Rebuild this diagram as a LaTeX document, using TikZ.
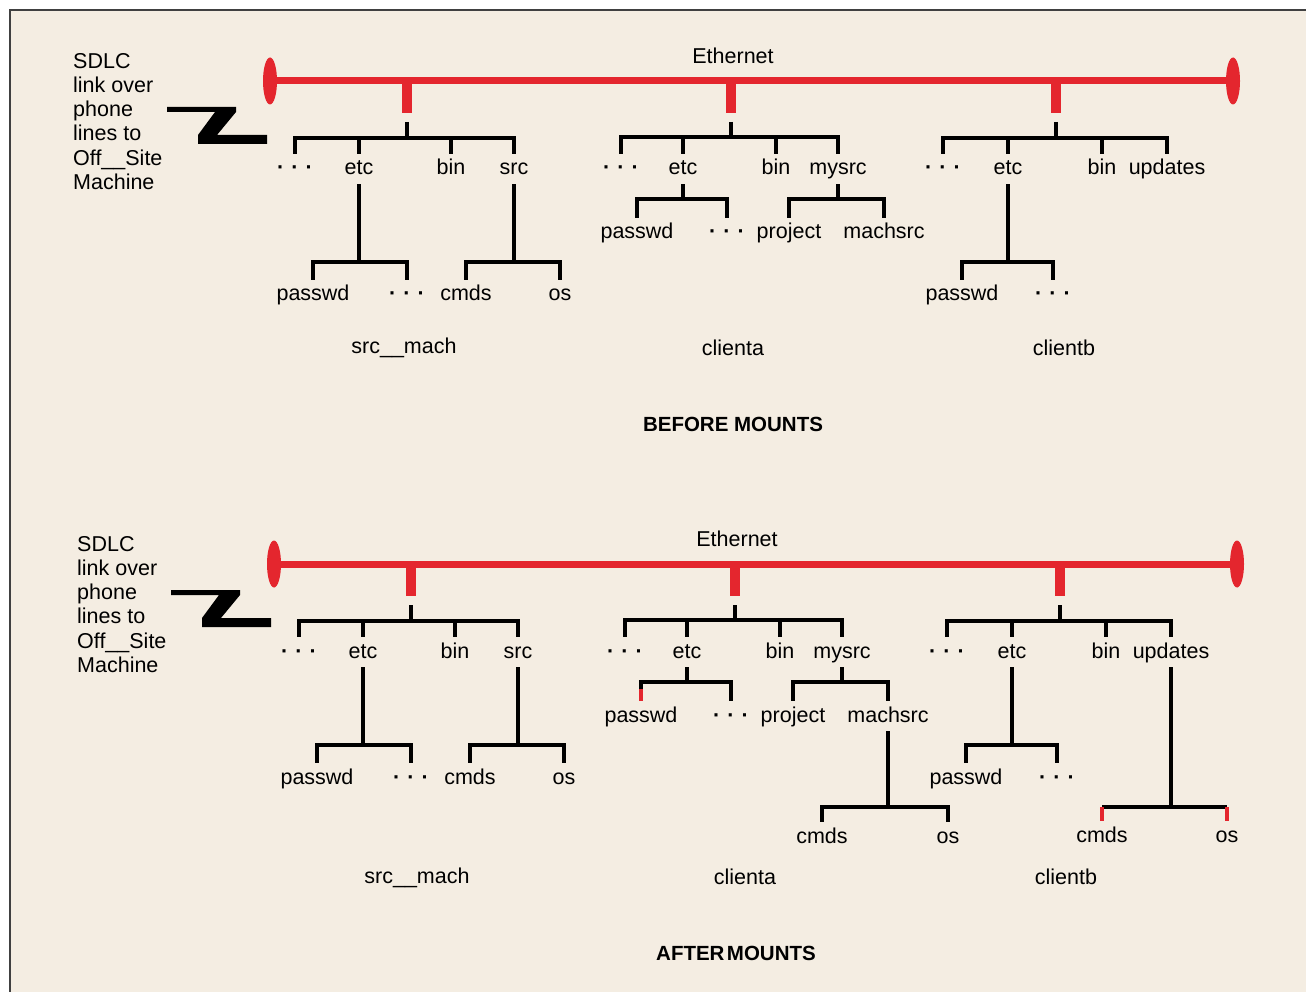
\documentclass[tikz,border=0pt]{standalone}
\usepackage{fontspec}
\setmainfont{Liberation Sans}
\usepackage{tikz}
\usetikzlibrary{shapes.geometric}

\definecolor{ethred}{RGB}{228,38,46}
\definecolor{paper}{RGB}{244,237,226}

\newcommand{\more}{\textbf{·\,\,·\,\,·}}

% one network: the off-site link, the Ethernet and the three file trees
\newcommand{\mountnet}{%
  \node[note] (sdlc) at (73,53) {SDLC\\link over\\phone\\lines to\\Off\_\_Site\\Machine};
  \fill (167,107) -- (236,107) -- (236,112) -- (217,135) -- (267,135) -- (267,144)
        -- (198,144) -- (198,135) -- (215,112) -- (167,112) -- cycle;
  % Ethernet
  \node[tap] (ethL) at (270,81) {};
  \node[tap] (ethR) at (1233,81) {};
  \draw[ether] (ethL) -- (ethR);
  \node[host] (eth) at (733,56) {Ethernet};
  % src__mach
  \coordinate (smTap) at (407,113);
  \coordinate (smTop) at (407,122);
  \coordinate (smJ) at (407,138);
  \draw[drop] (ethL -| smTap) -- (smTap);
  \draw[tree] (smTop) -- (smJ);
  \node[lbl] (smDots) at (295,175) {\more};
  \node[lbl] (smEtc)  at (359,175) {etc};
  \node[lbl] (smBin)  at (451,175) {bin};
  \node[lbl] (smSrc)  at (514,175) {src};
  \draw[tree] (smDots.north) |- (smJ) -| (smSrc.north);
  \draw[tree] (smEtc.north) -- (smEtc.north |- smJ);
  \draw[tree] (smBin.north) -- (smBin.north |- smJ);
  \node[lbl] (smPw)   at (313,301) {passwd};
  \node[lbl] (smMore) at (407,301) {\more};
  \coordinate (smEtcJ) at (359,262);
  \draw[tree] (smEtc.south) -- (smEtcJ);
  \draw[tree] (smPw.north) |- (smEtcJ) -| (smMore.north);
  \node[lbl] (smCmds) at (466,301) {cmds};
  \node[lbl] (smOs)   at (560,301) {os};
  \coordinate (smSrcJ) at (514,262);
  \draw[tree] (smSrc.south) -- (smSrcJ);
  \draw[tree] (smCmds.north) |- (smSrcJ) -| (smOs.north);
  % clienta
  \coordinate (caTap) at (731,113);
  \coordinate (caTop) at (731,122);
  \coordinate (caJ) at (731,137);
  \draw[drop] (ethL -| caTap) -- (caTap);
  \draw[tree] (caTop) -- (caJ);
  \node[lbl] (caDots)  at (621,175) {\more};
  \node[lbl] (caEtc)   at (683,175) {etc};
  \node[lbl] (caBin)   at (776,175) {bin};
  \node[lbl] (caMysrc) at (838,175) {mysrc};
  \draw[tree] (caDots.north) |- (caJ) -| (caMysrc.north);
  \draw[tree] (caEtc.north) -- (caEtc.north |- caJ);
  \draw[tree] (caBin.north) -- (caBin.north |- caJ);
  \node[lbl] (caPw)   at (637,239) {passwd};
  \node[lbl] (caMore) at (727,239) {\more};
  \coordinate (caEtcJ) at (683,199);
  \draw[tree] (caEtc.south) -- (caEtcJ);
  \draw[tree] (caPw.north) |- (caEtcJ) -| (caMore.north);
  \node[lbl] (caProj) at (789,239) {project};
  \node[lbl] (caMach) at (884,239) {machsrc};
  \coordinate (caMysrcJ) at (838,199);
  \draw[tree] (caMysrc.south) -- (caMysrcJ);
  \draw[tree] (caProj.north) |- (caMysrcJ) -| (caMach.north);
  % clientb
  \coordinate (cbTap) at (1056,113);
  \coordinate (cbTop) at (1056,122);
  \coordinate (cbJ) at (1056,138);
  \draw[drop] (ethL -| cbTap) -- (cbTap);
  \draw[tree] (cbTop) -- (cbJ);
  \node[lbl] (cbDots) at (943,175) {\more};
  \node[lbl] (cbEtc)  at (1008,175) {etc};
  \node[lbl] (cbBin)  at (1102,175) {bin};
  \node[lbl] (cbUpd)  at (1167,175) {updates};
  \draw[tree] (cbDots.north) |- (cbJ) -| (cbUpd.north);
  \draw[tree] (cbEtc.north) -- (cbEtc.north |- cbJ);
  \draw[tree] (cbBin.north) -- (cbBin.north |- cbJ);
  \node[lbl] (cbPw)   at (962,301) {passwd};
  \node[lbl] (cbMore) at (1053,301) {\more};
  \coordinate (cbEtcJ) at (1008,262);
  \draw[tree] (cbEtc.south) -- (cbEtcJ);
  \draw[tree] (cbPw.north) |- (cbEtcJ) -| (cbMore.north);
}

\begin{document}
\begin{tikzpicture}[x=1pt, y=-1pt, font=\fontsize{21.5}{24.2}\selectfont,
    lbl/.style={anchor=base, inner sep=0pt, text height=21pt, text depth=9pt},
    host/.style={inner sep=0pt},
    note/.style={anchor=north west, align=left, inner sep=0pt},
    title/.style={inner sep=0pt, font=\bfseries\fontsize{20.5}{24}\selectfont},
    tree/.style={line width=3.5pt},
    mount/.style={line width=3.5pt, ethred},
    ether/.style={line width=7pt, ethred},
    drop/.style={line width=10pt, ethred},
    tap/.style={ellipse, fill=ethred, inner sep=0pt, minimum width=14pt, minimum height=47pt},
  ]
  \useasboundingbox (0,0) rectangle (1306,992);
  \fill[white] (0,0) rectangle (1306,992);
  \fill[paper] (10,10) rectangle (1306,992);
  \draw[line width=2.5pt, black!75] (1306,10) -- (10,10) -- (10,992);

  % before
  \begin{scope}[name prefix=t-]
    \mountnet
  \end{scope}
  \node[host] (smBefore) at (404,348) {src\_\_mach};
  \node[host] (caBefore) at (733,348) {clienta};
  \node[host] (cbBefore) at (1064,348) {clientb};
  \node[title] (before) at (733,424) {BEFORE MOUNTS};

  % after: remote trees mounted under machsrc and updates
  \begin{scope}[shift={(4,483)}, name prefix=b-]
    \mountnet
    \draw[mount] (caPw.north) -- ++(0,-12);
    \node[lbl] (caCmds) at (818,360) {cmds};
    \node[lbl] (caOs)   at (944,360) {os};
    \coordinate (caMachJ) at (884,324);
    \draw[tree] (caMach.south) -- (caMachJ);
    \draw[tree] (caCmds.north) |- (caMachJ) -| (caOs.north);
    \node[lbl] (cbCmds) at (1098,359) {cmds};
    \node[lbl] (cbOs)   at (1223,359) {os};
    \coordinate (cbUpdJ) at (1167,324);
    \draw[tree] (cbUpd.south) -- (cbUpdJ);
    \draw[tree] (cbCmds.north |- cbUpdJ) -- (cbOs.north |- cbUpdJ);
    \draw[mount] (cbCmds.north) -- (cbCmds.north |- cbUpdJ);
    \draw[mount] (cbOs.north) -- (cbOs.north |- cbUpdJ);
  \end{scope}
  \node[host] (smAfter) at (417,878) {src\_\_mach};
  \node[host] (caAfter) at (745,877) {clienta};
  \node[host] (cbAfter) at (1066,877) {clientb};
  \node[title] (after) at (736,953) {AFTER\hspace{0.12em}MOUNTS};
\end{tikzpicture}
\end{document}
